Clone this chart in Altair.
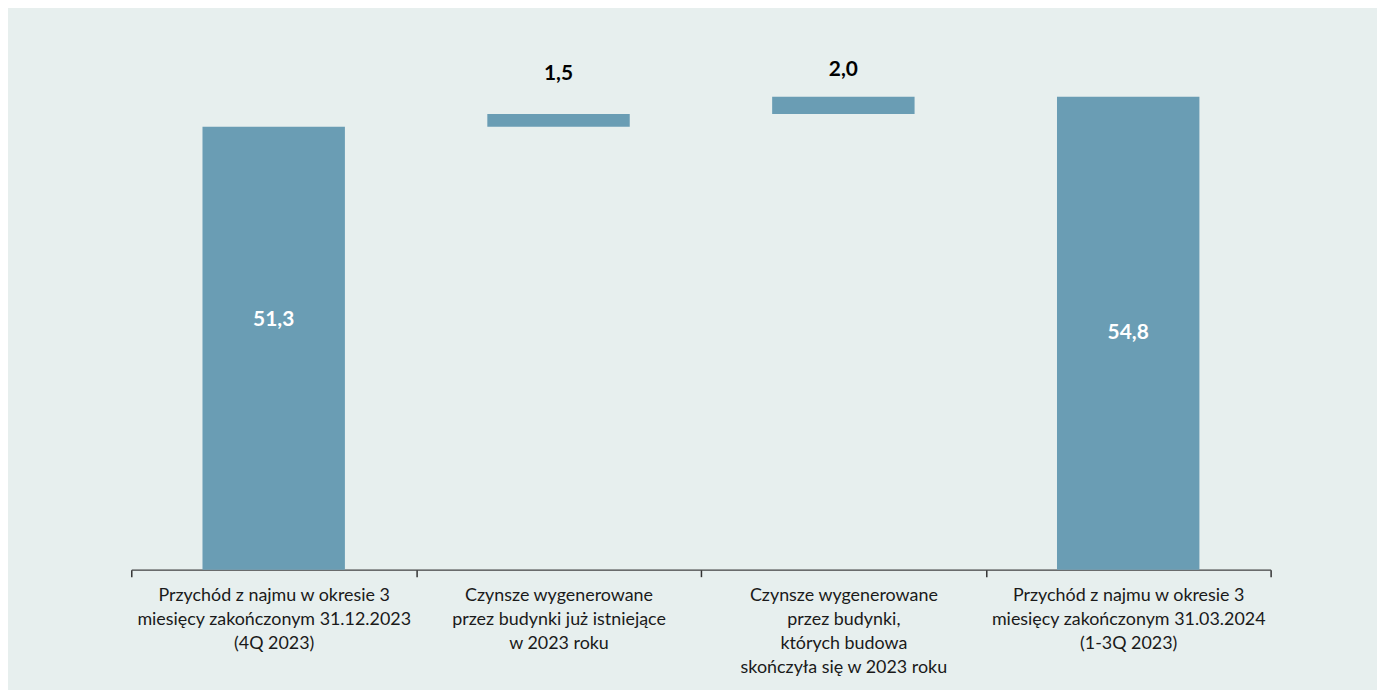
import altair as alt
import pandas as pd

categories = [
    "Przychód z najmu w okresie 3|miesięcy zakończonym 31.12.2023|(4Q 2023)",
    "Czynsze wygenerowane|przez budynki już istniejące|w 2023 roku",
    "Czynsze wygenerowane|przez budynki,|których budowa|skończyła się w 2023 roku",
    "Przychód z najmu w okresie 3|miesięcy zakończonym 31.03.2024|(1-3Q 2023)",
]
values = [51.3, 1.5, 2.0, 54.8]
kinds = ["total", "delta", "delta", "total"]

rows = []
running = 0.0
for i, (c, v, k) in enumerate(zip(categories, values, kinds)):
    if k == "total":
        start, end = 0.0, v
        running = v
    else:
        start, end = running, running + v
        running = end
    rows.append({
        "cat": c, "value": v, "kind": k, "step": i,
        "start": start, "end": end, "mid": (start + end) / 2,
        "label": f"{v:.1f}".replace(".", ","),
    })
df = pd.DataFrame(rows)

BAR = "#6A9DB4"
BG = "#E7EFEE"
FONT = "Lato"

x = alt.X("cat:N", sort=categories, title=None,
          scale=alt.Scale(paddingInner=0, paddingOuter=0),
          axis=alt.Axis(labelExpr="split(datum.label, '|')", labelAngle=0,
                        labelFont=FONT, labelFontSize=18, labelColor="#1a1a1a",
                        labelLineHeight=24, labelPadding=10, labelLimit=400,
                        domainColor="#404040", tickColor="#333333", tickSize=7,
                        ticks=True, tickBand="extent", tickExtra=True,
                        domainWidth=1.2, tickWidth=1.5, tickOpacity=1))
y = alt.Y("start:Q", scale=alt.Scale(domain=[0, 60], nice=False), axis=None)

base = alt.Chart(df)
bars = base.mark_bar(color=BAR, width=alt.RelativeBandSize(0.5)).encode(x=x, y=y, y2="end:Q")

def txt(filt, color, dy):
    return base.transform_filter(filt).mark_text(
        font=FONT, fontSize=21, fontWeight="bold", color=color, dy=dy
    )

inside0 = txt("datum.step == 0", "white", -28).encode(x=x, y=alt.Y("mid:Q"), text="label:N")
inside3 = txt("datum.step == 3", "white", 0).encode(x=x, y=alt.Y("mid:Q"), text="label:N")
lab1 = txt("datum.step == 1", "black", -40).encode(x=x, y=alt.Y("end:Q"), text="label:N")
lab2 = txt("datum.step == 2", "black", -27).encode(x=x, y=alt.Y("end:Q"), text="label:N")

chart = alt.layer(bars, inside0, inside3, lab1, lab2).properties(
    width=1146, height=521,
    background=BG,
    padding={"left": 124, "top": 42, "right": 107, "bottom": 119},
    autosize=alt.AutoSizeParams(type="none"),
).configure_view(stroke=None)

chart.save("out.html", embed_options={"renderer": "svg", "actions": False})
